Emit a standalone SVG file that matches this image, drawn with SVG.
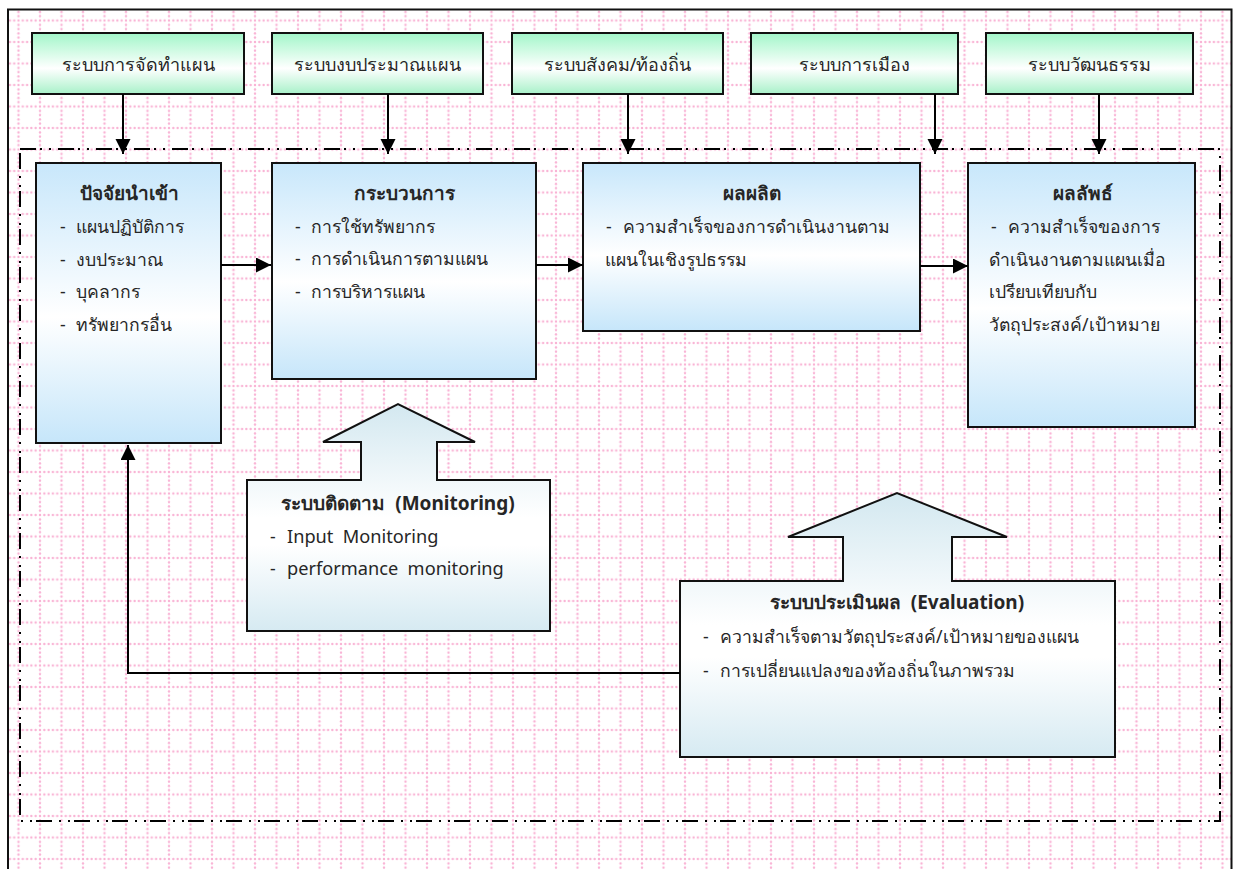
<svg xmlns="http://www.w3.org/2000/svg" width="1234" height="869" viewBox="0 0 1234 869">
<defs>
  <pattern id="grid" patternUnits="userSpaceOnUse" x="18.5" y="20.5" width="21.5" height="21.5">
    <g fill="#f9b2d4">
      <circle cx="0" cy="0" r="1.2"/><circle cx="4.3" cy="0" r="1.2"/><circle cx="8.6" cy="0" r="1.2"/><circle cx="12.9" cy="0" r="1.2"/><circle cx="17.2" cy="0" r="1.2"/><circle cx="21.5" cy="0" r="1.2"/>
      <circle cx="0" cy="4.3" r="1.2"/><circle cx="0" cy="8.6" r="1.2"/><circle cx="0" cy="12.9" r="1.2"/><circle cx="0" cy="17.2" r="1.2"/><circle cx="0" cy="21.5" r="1.2"/>
      <circle cx="21.5" cy="4.3" r="1.2"/><circle cx="21.5" cy="8.6" r="1.2"/><circle cx="21.5" cy="12.9" r="1.2"/><circle cx="21.5" cy="17.2" r="1.2"/><circle cx="21.5" cy="21.5" r="1.2"/>
      <circle cx="4.3" cy="21.5" r="1.2"/><circle cx="8.6" cy="21.5" r="1.2"/><circle cx="12.9" cy="21.5" r="1.2"/><circle cx="17.2" cy="21.5" r="1.2"/>
    </g>
  </pattern>
  <linearGradient id="gGreen" x1="0" y1="0" x2="0" y2="1">
    <stop offset="0" stop-color="#a2f6c9"/>
    <stop offset="0.58" stop-color="#ffffff"/>
    <stop offset="1" stop-color="#a8f1c9"/>
  </linearGradient>
  <linearGradient id="gBlue" x1="0" y1="0" x2="0" y2="1">
    <stop offset="0" stop-color="#c8e7fb"/>
    <stop offset="0.55" stop-color="#ffffff"/>
    <stop offset="1" stop-color="#c6e6fa"/>
  </linearGradient>
  <linearGradient id="gCall" x1="0" y1="0" x2="0" y2="1">
    <stop offset="0" stop-color="#d3e8f0"/>
    <stop offset="0.5" stop-color="#ffffff"/>
    <stop offset="0.62" stop-color="#ffffff"/>
    <stop offset="1" stop-color="#d6eaf2"/>
  </linearGradient>
  <marker id="arr" markerUnits="userSpaceOnUse" markerWidth="16" markerHeight="16" refX="15" refY="7.5" orient="auto">
    <path d="M0,0 L15,7.5 L0,15 z" fill="#000"/>
  </marker>
  <style>
    .sys{fill:url(#gGreen);stroke:#111;stroke-width:2}
    .box{fill:url(#gBlue);stroke:#111;stroke-width:2}
    .call{fill:url(#gCall);stroke:#111;stroke-width:2;stroke-linejoin:miter}
    text{font-family:"Noto Sans","Open Sans",sans-serif;fill:#262626;font-size:17.6px}
    .t{font-size:18px}
    .b{font-weight:bold;font-size:19px}
    .lat{font-size:18.2px}
    .mid{text-anchor:middle}
    .con{stroke:#000;stroke-width:2;fill:none}
  </style>
</defs>

<rect x="0" y="0" width="1234" height="869" fill="#fff"/>
<rect x="8" y="9.5" width="1223.5" height="870" fill="url(#grid)" stroke="#111" stroke-width="2"/>
<rect id="frame" x="20" y="149" width="1200" height="672" fill="none" stroke="#000" stroke-width="2" stroke-dasharray="16 4 2 7 2 7"/>

<g id="sys1"><rect class="sys" x="32" y="33" width="212" height="61"/><text class="t mid" x="138" y="71">ระบบการจัดทำแผน</text></g>
<g id="sys2"><rect class="sys" x="272" y="33" width="211" height="61"/><text class="t mid" x="377.5" y="71">ระบบงบประมาณแผน</text></g>
<g id="sys3"><rect class="sys" x="512" y="33" width="211" height="61"/><text class="t mid" x="617.5" y="71">ระบบสังคม/ท้องถิ่น</text></g>
<g id="sys4"><rect class="sys" x="751" y="33" width="207" height="61"/><text class="t mid" x="854.5" y="71">ระบบการเมือง</text></g>
<g id="sys5"><rect class="sys" x="986" y="33" width="207" height="61"/><text class="t mid" x="1089.5" y="71">ระบบวัฒนธรรม</text></g>

<g id="input"><rect class="box" x="36" y="163" width="185" height="280"/>
  <text class="b mid" x="129" y="200">ปัจจัยนำเข้า</text>
  <text x="60" y="233">-</text><text x="76" y="233">แผนปฏิบัติการ</text>
  <text x="60" y="266">-</text><text x="76" y="266">งบประมาณ</text>
  <text x="60" y="298">-</text><text x="76" y="298">บุคลากร</text>
  <text x="60" y="331">-</text><text x="76" y="331">ทรัพยากรอื่น</text>
</g>
<g id="process"><rect class="box" x="272" y="163" width="264" height="216"/>
  <text class="b mid" x="404" y="200">กระบวนการ</text>
  <text x="295" y="233">-</text><text x="311" y="233">การใช้ทรัพยากร</text>
  <text x="295" y="265">-</text><text x="311" y="265">การดำเนินการตามแผน</text>
  <text x="295" y="298">-</text><text x="311" y="298">การบริหารแผน</text>
</g>
<g id="output"><rect class="box" x="583" y="163" width="337" height="168"/>
  <text class="b mid" x="752" y="200">ผลผลิต</text>
  <text x="606" y="233">-</text><text x="623" y="233">ความสำเร็จของการดำเนินงานตาม</text>
  <text x="605" y="266">แผนในเชิงรูปธรรม</text>
</g>
<g id="outcome"><rect class="box" x="968" y="163" width="227" height="264"/>
  <text class="b mid" x="1083" y="200">ผลลัพธ์</text>
  <text x="991" y="233">-</text><text x="1008" y="233">ความสำเร็จของการ</text>
  <text x="989" y="266">ดำเนินงานตามแผนเมื่อ</text>
  <text x="989" y="298">เปรียบเทียบกับ</text>
  <text x="989" y="331">วัตถุประสงค์/เป้าหมาย</text>
</g>

<g id="monitoring">
  <path class="call" d="M247,480 L361,480 L361,442 L323,442 L398,404 L475,442 L437,442 L437,480 L550,480 L550,631 L247,631 Z"/>
  <text class="b mid" x="398" y="510" xml:space="preserve">ระบบติดตาม  (Monitoring)</text>
  <text x="270" y="543">-</text><text class="lat" x="287" y="543" xml:space="preserve">Input  Monitoring</text>
  <text x="270" y="575">-</text><text class="lat" x="287" y="575" xml:space="preserve">performance  monitoring</text>
</g>
<g id="evaluation">
  <path class="call" d="M680,581 L843,581 L843,537 L788,537 L897,493 L1007,537 L952,537 L952,581 L1115,581 L1115,757 L680,757 Z"/>
  <text class="b mid" x="897" y="609" xml:space="preserve">ระบบประเมินผล  (Evaluation)</text>
  <text x="703" y="643">-</text><text x="720" y="643">ความสำเร็จตามวัตถุประสงค์/เป้าหมายของแผน</text>
  <text x="703" y="677">-</text><text x="720" y="677">การเปลี่ยนแปลงของท้องถิ่นในภาพรวม</text>
</g>

<g id="connectors">
  <line class="con" x1="123" y1="94" x2="123" y2="154" marker-end="url(#arr)"/>
  <line class="con" x1="388" y1="94" x2="388" y2="154" marker-end="url(#arr)"/>
  <line class="con" x1="628" y1="94" x2="628" y2="154" marker-end="url(#arr)"/>
  <line class="con" x1="935" y1="94" x2="935" y2="154" marker-end="url(#arr)"/>
  <line class="con" x1="1099" y1="94" x2="1099" y2="154" marker-end="url(#arr)"/>
  <line class="con" x1="221" y1="265" x2="271" y2="265" marker-end="url(#arr)"/>
  <line class="con" x1="536" y1="265" x2="583" y2="265" marker-end="url(#arr)"/>
  <line class="con" x1="920" y1="266" x2="968" y2="266" marker-end="url(#arr)"/>
  <path class="con" d="M680,673 L128,673 L128,445" marker-end="url(#arr)"/>
</g>
</svg>
